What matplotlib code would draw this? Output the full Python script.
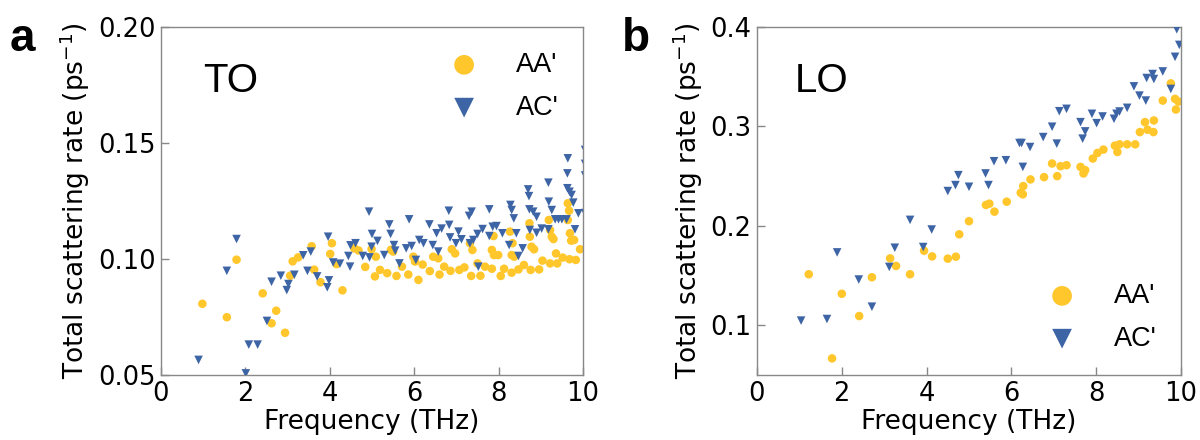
import matplotlib
matplotlib.use("Agg")
import matplotlib.pyplot as plt
import numpy as np

# ---------------- data ----------------
to_aa_x = [0.98,1.56,1.79,2.41,2.62,2.73,2.94,3.06,3.12,3.25,3.57,3.63,3.78,4.01,4.05,4.16,4.30,4.58,4.68,4.84,
           4.99,5.07,5.09,5.19,5.36,5.45,5.50,5.58,5.71,5.86,5.98,6.02,6.10,6.20,6.37,6.45,6.57,6.60,6.71,6.86,
           6.89,6.97,7.07,7.19,7.32,7.35,7.38,7.50,7.57,7.68,7.84,7.84,7.88,7.89,7.99,8.05,8.13,8.27,8.31,8.31,
           8.33,8.37,8.47,8.60,8.73,8.74,8.76,8.78,8.84,8.96,9.04,9.19,9.22,9.22,9.26,9.30,9.36,9.39,9.52,9.64,
           9.64,9.67,9.68,9.69,9.72,9.79,9.83,9.93]
to_aa_y = [0.0807,0.0749,0.0997,0.0852,0.0723,0.0777,0.0682,0.0928,0.0990,0.1007,0.1055,0.0954,0.0900,0.1022,0.1068,0.0978,0.0865,0.1046,0.1037,0.0966,
           0.1043,0.0925,0.1010,0.0953,0.0939,0.1040,0.1032,0.0927,0.0967,0.0933,0.1010,0.0989,0.0910,0.0976,0.0948,0.1010,0.1003,0.0933,0.0967,0.0949,
           0.1042,0.1024,0.0953,0.0964,0.1068,0.0927,0.1039,0.0981,0.0928,0.0967,0.0958,0.1039,0.1099,0.1017,0.1017,0.0927,0.0958,0.1118,0.0941,0.1017,
           0.1068,0.1010,0.0955,0.0974,0.1154,0.1096,0.0953,0.1053,0.1042,0.0955,0.0993,0.1168,0.0981,0.1125,0.1096,0.1086,0.1024,0.0981,0.1006,0.1240,
           0.1168,0.1208,0.0999,0.1111,0.1079,0.1082,0.0996,0.1042]

to_ac_x = [0.89,1.56,1.79,2.01,2.08,2.29,2.51,2.62,2.84,2.98,3.02,3.16,3.37,3.47,3.55,3.70,3.94,3.96,3.98,4.08,
           4.24,4.44,4.48,4.49,4.61,4.78,4.93,4.94,4.99,5.00,5.13,5.29,5.41,5.44,5.52,5.55,5.65,5.81,5.88,5.94,
           6.04,6.12,6.22,6.36,6.44,6.53,6.57,6.65,6.82,6.83,6.85,6.99,7.05,7.12,7.30,7.32,7.36,7.40,7.50,7.52,
           7.62,7.78,7.78,7.86,7.95,8.09,8.25,8.28,8.31,8.36,8.42,8.47,8.57,8.70,8.72,8.73,8.74,8.82,8.90,8.90,
           9.02,9.18,9.19,9.26,9.18,9.34,9.42,9.50,9.61,9.64,9.63,9.63,9.68,9.73,9.77,9.81,9.89,10.05,10.05,10.05,10.05]
to_ac_y = [0.0565,0.0949,0.1086,0.0507,0.0631,0.0631,0.0733,0.0902,0.0928,0.0866,0.0892,0.0932,0.1016,0.0949,0.1032,0.0925,0.0878,0.1096,0.0908,0.0985,
           0.0980,0.1013,0.0967,0.1059,0.1068,0.1013,0.1204,0.1007,0.1053,0.1108,0.1078,0.1017,0.1149,0.1108,0.1060,0.1036,0.0981,0.1046,0.1171,0.1056,
           0.0996,0.1082,0.1068,0.1149,0.1060,0.1111,0.1032,0.1131,0.1208,0.1147,0.1093,0.1068,0.1118,0.1085,0.1186,0.1068,0.1204,0.1082,0.1108,0.0967,
           0.1129,0.1214,0.1099,0.1139,0.1142,0.1111,0.1060,0.1233,0.1211,0.1175,0.1111,0.1013,0.1046,0.1300,0.1271,0.1214,0.1125,0.1204,0.1182,0.1113,
           0.1131,0.1329,0.1247,0.1211,0.1128,0.1171,0.1171,0.1171,0.1171,0.1434,0.1369,0.1305,0.1290,0.1276,0.1243,0.1128,0.1197,0.147,0.141,0.136,0.1198]

lo_aa_x = [1.22,1.77,2.00,2.41,2.71,3.14,3.28,3.61,3.94,4.13,4.50,4.69,4.77,5.00,5.40,5.48,5.60,5.89,6.22,6.27,
           6.28,6.45,6.77,6.96,7.08,7.16,7.30,7.63,7.70,7.74,7.92,8.03,8.17,8.44,8.50,8.55,8.73,8.92,9.03,9.15,
           9.21,9.35,9.36,9.57,9.76,9.86,9.88,9.94]
lo_aa_y = [0.1513,0.0667,0.1317,0.1093,0.1483,0.1673,0.1597,0.1513,0.1750,0.1693,0.1670,0.1690,0.1915,0.2047,0.2210,0.2223,0.2143,0.2243,0.2333,0.2317,
           0.2400,0.2467,0.2490,0.2627,0.2500,0.2600,0.2610,0.2593,0.2527,0.2560,0.2677,0.2733,0.2767,0.2807,0.2743,0.2820,0.2820,0.2820,0.2943,0.3043,
           0.2967,0.2943,0.3060,0.3260,0.3433,0.3277,0.3170,0.3250]

lo_ac_x = [1.04,1.65,1.89,2.40,2.71,3.12,3.25,3.61,3.92,4.12,4.50,4.68,4.75,5.00,5.39,5.46,5.59,5.87,6.19,6.24,
           6.27,6.44,6.75,6.96,7.07,7.13,7.30,7.63,7.68,7.74,7.90,8.01,8.15,8.42,8.48,8.55,8.73,8.89,9.02,9.17,
           9.19,9.33,9.36,9.57,9.76,9.86,9.96,9.90]
lo_ac_y = [0.1047,0.1063,0.1733,0.1460,0.1187,0.1587,0.1780,0.2060,0.1787,0.1963,0.2350,0.2410,0.2510,0.2393,0.2527,0.2410,0.2650,0.2660,0.2833,0.2833,
           0.2593,0.2793,0.2893,0.2997,0.2827,0.3153,0.3177,0.3043,0.2877,0.2950,0.3127,0.3033,0.3100,0.3077,0.3127,0.3150,0.3187,0.3403,0.3310,0.3260,
           0.3487,0.3527,0.3477,0.3553,0.3377,0.3700,0.3820,0.3977]

x_ticks = [0, 2, 4, 6, 8, 10]
to_yticks = [0.05, 0.10, 0.15, 0.20]
to_yticklabels = ["0.05", "0.10", "0.15", "0.20"]
lo_yticks = [0.1, 0.2, 0.3, 0.4]
lo_yticklabels = ["0.1", "0.2", "0.3", "0.4"]
series_labels = ["AA'", "AC'"]

# ---------------- style ----------------
YEL = "#FFC72C"
BLU = "#3D64A5"
SPINE = "#888888"
TICKFS = 18.5
LABFS = 19
ANN = "Liberation Sans"

fig = plt.figure(figsize=(12, 4.4), dpi=100)
ax1 = fig.add_axes([161/1200, 65/440, 422/1200, 348/440])
ax2 = fig.add_axes([757/1200, 65/440, 424/1200, 348/440])

def style(ax):
    for s in ax.spines.values():
        s.set_color(SPINE)
        s.set_linewidth(1.0)
    ax.tick_params(direction="in", length=6, width=1.0, color=SPINE,
                   labelsize=TICKFS, top=False, right=False, pad=4)
    ax.set_xlim(0, 10)
    ax.set_xticks(x_ticks)
    ax.set_xlabel("Frequency (THz)", fontsize=LABFS, labelpad=2)
    ax.set_ylabel("Total scattering rate (ps$^{-1}$)", fontsize=LABFS, labelpad=4)

ms = 38
leg_kw = dict(frameon=False, prop={"family": ANN, "size": 19.5}, markerscale=2.3,
              handletextpad=0.9, labelspacing=0.62, borderaxespad=0.2)

# panel a
ax1.scatter(to_aa_x, to_aa_y, s=ms, marker="o", color=YEL, edgecolors="none", label=series_labels[0], zorder=2)
ax1.scatter(to_ac_x, to_ac_y, s=ms, marker="v", color=BLU, edgecolors="none", label=series_labels[1], zorder=3)
style(ax1)
ax1.set_ylim(0.05, 0.20)
ax1.set_yticks(to_yticks)
ax1.set_yticklabels(to_yticklabels)
ax1.text(0.1, 0.9, "TO", transform=ax1.transAxes, fontsize=29, family=ANN, va="top", ha="left")
ax1.legend(loc="upper right", bbox_to_anchor=(0.98, 0.975), **leg_kw)

# panel b
ax2.scatter(lo_aa_x, lo_aa_y, s=ms, marker="o", color=YEL, edgecolors="none", label=series_labels[0], zorder=2)
ax2.scatter(lo_ac_x, lo_ac_y, s=ms, marker="v", color=BLU, edgecolors="none", label=series_labels[1], zorder=3)
style(ax2)
ax2.set_ylim(0.05, 0.40)
ax2.set_yticks(lo_yticks)
ax2.set_yticklabels(lo_yticklabels)
ax2.text(0.09, 0.9, "LO", transform=ax2.transAxes, fontsize=29, family=ANN, va="top", ha="left")
ax2.legend(loc="lower right", bbox_to_anchor=(0.98, 0.02), **leg_kw)

# panel labels
fig.text(10/1200, 1 - 17/440, "a", fontsize=33, fontweight="bold", family=ANN, va="top", ha="left")
fig.text(622/1200, 1 - 17/440, "b", fontsize=33, fontweight="bold", family=ANN, va="top", ha="left")

fig.savefig("out.png", dpi=100)
